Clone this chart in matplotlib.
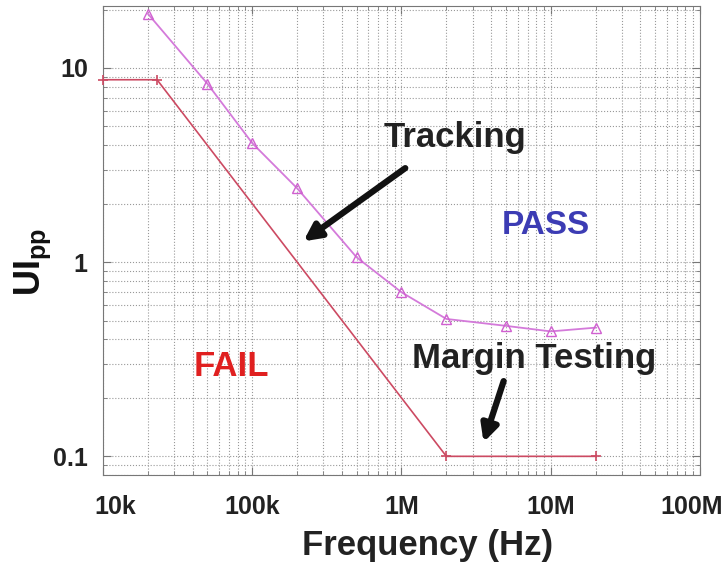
import matplotlib

matplotlib.use("Agg")
import matplotlib.pyplot as plt
import matplotlib.transforms as mtransforms
from matplotlib.ticker import FixedLocator, FixedFormatter, LogLocator, NullFormatter

plt.rcParams["font.family"] = ["Liberation Sans", "DejaVu Sans"]
plt.rcParams["font.weight"] = "bold"
plt.rcParams["mathtext.fontset"] = "custom"
plt.rcParams["mathtext.bf"] = "Liberation Sans:bold"
plt.rcParams["mathtext.rm"] = "Liberation Sans:bold"

# jitter tolerance curve (tracking) and margin-testing mask
tracking_freq = [2e4, 5e4, 1e5, 2e5, 5e5, 1e6, 2e6, 5e6, 1e7, 2e7]
tracking_ui = [19.0, 8.3, 4.1, 2.4, 1.06, 0.70, 0.51, 0.47, 0.44, 0.46]
mask_freq = [1e4, 2.3e4, 2e6, 2e7]
mask_ui = [8.7, 8.7, 0.1, 0.1]

x_ticks = [1e4, 1e5, 1e6, 1e7, 1e8]
x_labels = ["10k", "100k", "1M", "10M", "100M"]
y_ticks = [0.1, 1, 10]
y_labels = ["0.1", "1", "10"]

fig = plt.figure(figsize=(7.26, 5.67), dpi=100)
ax = fig.add_axes([0.142, 0.162, 0.822, 0.827])
ax.set_xscale("log")
ax.set_yscale("log")
ax.set_xlim(1e4, 1e8)
ax.set_ylim(0.08, 20.8)

ax.plot(mask_freq, mask_ui, color="#cc4a62", lw=1.2, marker="+", ms=7, mew=1.2,
        clip_on=False, zorder=3)
ax.plot(tracking_freq, tracking_ui, color="#d47ada", lw=1.3, marker="^", ms=7,
        mfc="none", mec="#d060d0", mew=1.0, clip_on=False, zorder=3)

ax.xaxis.set_major_locator(FixedLocator(x_ticks))
ax.xaxis.set_major_formatter(FixedFormatter(x_labels))
ax.yaxis.set_major_locator(FixedLocator(y_ticks))
ax.yaxis.set_major_formatter(FixedFormatter(y_labels))
ax.xaxis.set_minor_locator(LogLocator(base=10, subs=range(2, 10), numticks=20))
ax.yaxis.set_minor_locator(LogLocator(base=10, subs=range(2, 10), numticks=20))
ax.xaxis.set_minor_formatter(NullFormatter())
ax.yaxis.set_minor_formatter(NullFormatter())
ax.tick_params(which="both", direction="in", top=True, right=True, colors="#777777",
               labelcolor="#222222", labelsize=18)
ax.tick_params(which="major", length=6)
ax.tick_params(axis="x", which="major", pad=14)
ax.tick_params(axis="y", which="major", pad=11)
ax.tick_params(which="minor", length=3)
ax.grid(True, which="both", linestyle=":", color="#999999", lw=0.8)
for spine in ax.spines.values():
    spine.set_color("#777777")

# nudge the end labels the way the original places them
label_shift = {"10k": 12, "100M": -8}
for tick_label, text in zip(ax.get_xticklabels(), x_labels):
    dx = label_shift.get(text, 0)
    if dx:
        offset = mtransforms.ScaledTranslation(dx / 100, 0, fig.dpi_scale_trans)
        tick_label.set_transform(tick_label.get_transform() + offset)

fig.text(428 / 726, 1 - 546 / 567, "Frequency (Hz)", fontsize=25, fontweight="bold",
         color="#222222", ha="center", va="center")
fig.text(33 / 726, 1 - 262 / 567, r"$\mathbf{UI}_{\mathbf{pp}}$", fontsize=26,
         color="#111111", ha="center", va="center", rotation=90)

ax.text(2.3e6, 3.91, "Tracking", fontsize=25, ha="center", va="baseline", color="#222222")
ax.text(9.25e6, 1.39, "PASS", fontsize=24, ha="center", va="baseline", color="#3c3cb4")
ax.text(7.2e4, 0.259, "FAIL", fontsize=25, ha="center", va="baseline", color="#e02020")
ax.text(7.7e6, 0.284, "Margin Testing", fontsize=25, ha="center", va="baseline",
        color="#222222")

arrow_style = dict(arrowstyle="-|>,head_length=1.0,head_width=0.5", lw=4.5,
                   color="#111111", shrinkA=0, shrinkB=0)
ax.annotate("", xy=(2.2e5, 1.28), xytext=(1.06e6, 3.05), arrowprops=arrow_style)
ax.annotate("", xy=(3.55e6, 0.118), xytext=(4.84e6, 0.244), arrowprops=arrow_style)

fig.savefig("out.png", dpi=100)
